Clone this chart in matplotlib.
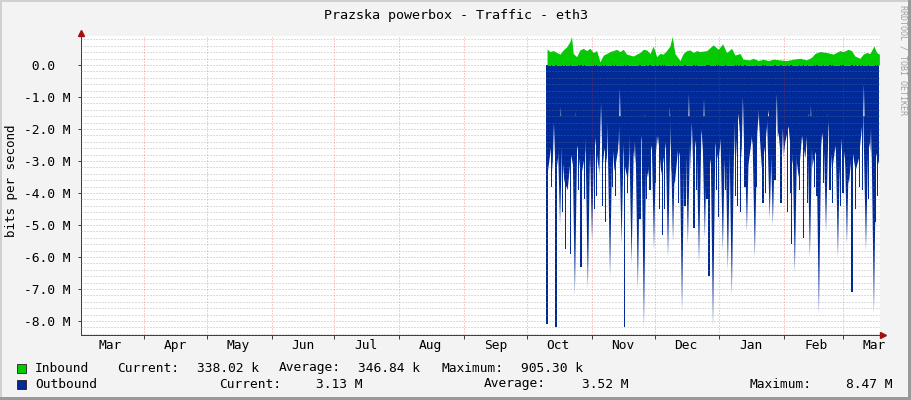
import datetime as dt
import numpy as np
import matplotlib
matplotlib.use('Agg')
import matplotlib.pyplot as plt
import matplotlib.dates as mdates
from matplotlib.patches import Rectangle
from matplotlib.ticker import MultipleLocator, NullFormatter

plt.rcParams['font.family'] = ['DejaVu Sans Mono', 'DejaVu Sans']

# ---- data (days since 2010-10-01, values in Mbit/s) ----
in_days = [9.6, 11.0, 12.6, 14.2, 15.8, 17.3, 19.0, 20.5, 21.3, 22.1, 23.7, 25.3,
           26.9, 28.5, 30.1, 31.7, 33.3, 34.9, 36.5, 38.1, 39.7, 41.2, 42.9, 44.4,
           46.0, 47.6, 49.2, 50.8, 52.4, 54.0, 55.6, 57.2, 58.8, 60.3, 62.0, 63.5,
           65.1, 66.7, 68.3, 69.4, 70.7, 73.1, 74.7, 76.3, 77.9, 79.5, 81.1, 82.7,
           85.9, 89.0, 91.4, 93.5, 95.4, 97.8, 99.4, 101.8, 103.3, 106.5, 108.1,
           110.5, 112.9, 115.3, 117.7, 120.9, 124.1, 127.2, 130.4, 133.6, 136.0,
           137.6, 140.0, 143.2, 146.4, 149.5, 151.1, 153.5, 155.1, 156.7, 159.1,
           160.7, 162.3, 163.9, 165.8, 167.1, 168.4]
in_vals = [0.50, 0.42, 0.45, 0.39, 0.34, 0.47, 0.57, 0.73, 0.89, 0.36, 0.26, 0.47,
           0.52, 0.45, 0.52, 0.39, 0.45, 0.10, 0.31, 0.36, 0.42, 0.45, 0.49, 0.42,
           0.49, 0.34, 0.31, 0.28, 0.34, 0.39, 0.49, 0.47, 0.36, 0.59, 0.26, 0.36,
           0.34, 0.45, 0.59, 0.89, 0.36, 0.14, 0.36, 0.45, 0.47, 0.39, 0.45, 0.42,
           0.45, 0.63, 0.49, 0.66, 0.39, 0.52, 0.31, 0.36, 0.18, 0.16, 0.21,
           0.14, 0.18, 0.14, 0.18, 0.16, 0.14, 0.18, 0.21, 0.16, 0.24,
           0.36, 0.42, 0.39, 0.34, 0.45, 0.42, 0.49, 0.45, 0.28, 0.21,
           0.34, 0.39, 0.36, 0.59, 0.39, 0.34]

# outbound: regular samples of the dense part of the area
out_start = 9.6
out_step = 1.6
out_base = [3.4, 2.6, 3.8, 3.0, 2.2, 3.6, 3.9, 2.8, 3.3, 2.5,
            3.5, 2.9, 2.4, 3.4, 2.1, 3.0, 3.7, 2.6, 3.2, 1.9,
            3.3, 2.7, 1.6, 3.1, 3.6, 2.4, 2.9, 3.4, 2.2, 3.0,
            3.5, 2.5, 3.1, 2.2, 3.4, 2.7, 1.9, 3.3, 3.7, 2.6,
            3.0, 1.7, 2.8, 3.4, 2.3, 3.1, 2.0, 3.5, 2.6, 3.2,
            2.4, 3.0, 2.1, 3.3, 1.8, 2.7, 3.4, 1.5, 2.9, 2.2,
            3.1, 2.3, 2.8, 1.6, 3.2, 2.5, 1.4, 3.0, 2.6, 2.1,
            3.3, 2.4, 1.9, 3.1, 2.6, 3.5, 2.2, 2.9, 1.5, 3.2,
            2.7, 3.4, 2.1, 3.0, 1.8, 3.3, 2.5, 3.6, 2.2, 3.1,
            3.7, 2.6, 3.3, 2.9, 1.8, 3.5, 2.4, 3.0, 2.7, 3.1]

# short-lived peaks that show as solid columns
peak_days = [9.6, 11.9, 13.9, 17.0, 18.6, 21.0, 24.5, 25.8, 27.4, 32.2, 33.4, 36.3,
             37.7, 41.0, 42.5, 46.8, 48.0, 54.0, 57.0, 58.8, 61.5, 63.5, 64.7, 65.9,
             70.2, 72.6, 75.5, 79.8, 81.0, 86.0, 87.0, 90.5, 91.7, 95.0, 99.5, 100.8,
             102.2, 104.2, 109.6, 112.8, 114.0, 118.5, 121.4, 124.7, 125.8, 126.6,
             130.4, 132.3, 134.0, 137.2, 138.6, 141.8, 144.8, 146.2, 150.0, 151.0,
             155.3, 157.0, 159.1, 160.3, 163.3, 166.7, 167.6]
peak_vals = [8.1, 3.8, 8.2, 4.6, 5.75, 5.9, 3.9, 6.3, 4.2, 4.5, 4.1, 4.4,
             4.9, 3.8, 4.1, 8.2, 4.0, 4.8, 4.2, 3.9, 3.7, 4.5, 5.3, 4.5,
             4.0, 4.3, 4.4, 5.1, 3.9, 4.2, 6.6, 3.9, 4.75, 3.9, 4.1, 4.4,
             4.6, 3.8, 3.8, 4.3, 4.0, 3.6, 4.3, 4.6, 4.0, 5.6,
             3.9, 5.4, 4.3, 3.8, 4.1, 3.7, 3.9, 4.3, 4.4, 4.0,
             7.1, 4.5, 3.8, 3.9, 4.2, 4.9, 4.1]

# peaks that fade out (sub-pixel wide)
spike_days = [15.8, 22.9, 29.1, 31.1, 39.7, 45.2, 50.0, 53.0, 55.9, 60.7, 67.4,
              69.8, 74.1, 76.9, 82.2, 85.0, 88.9, 93.6, 96.0, 97.9, 105.1, 108.9,
              116.0, 117.5, 128.0, 135.2, 139.5, 142.9, 148.6, 152.9, 162.0, 165.8]
spike_vals = [5.0, 7.2, 7.0, 5.5, 6.6, 5.6, 6.2, 7.0, 8.2, 5.8, 6.0,
              5.5, 7.7, 5.6, 6.2, 5.4, 8.2, 5.8, 6.4, 7.2, 5.2, 6.0,
              4.8, 5.0, 6.5, 6.0, 7.8, 5.2, 6.0, 5.6, 5.8, 7.75]

# short dips in outbound traffic
dip_days = [12.9, 16.2, 23.4, 28.2, 30.6, 35.4, 38.7, 44.4, 49.2, 51.6, 56.4, 62.1,
            68.3, 77.4, 78.8, 84.6, 89.8, 94.1, 98.9, 103.2, 107.5, 110.8, 115.1,
            119.4, 122.3, 127.6, 135.7, 143.8, 148.1, 156.2, 161.0, 164.4]
dip_vals = [1.8, 1.3, 1.45, 2.3, 2.5, 1.2, 1.8, 0.72, 2.2, 2.4, 1.5, 2.2,
            1.3, 0.9, 1.8, 1.05, 2.6, 2.85, 1.65, 1.0, 2.2, 1.4, 2.0,
            0.9, 1.97, 1.6, 1.25, 1.5, 1.6, 3.0, 0.6, 2.0]

month_fmt = '%b'
y_ticks = [-8, -7, -6, -5, -4, -3, -2, -1, 0]

legend_rows = [
    ('Inbound', '#00CC00', [('Current:', '338.02 k'), ('Average:', '346.84 k'), ('Maximum:', '905.30 k')]),
    ('Outbound', '#002A97', [('Current:', '3.13 M'), ('Average:', '3.52 M'), ('Maximum:', '8.47 M')]),
]

GREEN = '#00CC00'
BLUE = '#002A97'
W, H = 911, 400

t0 = mdates.date2num(dt.datetime(2010, 10, 1))

fig = plt.figure(figsize=(W / 100, H / 100), dpi=100, facecolor='#F3F3F3')
ax = fig.add_axes([81 / W, 1 - 335 / H, 799 / W, 299 / H], facecolor='white')

# outbound area (negative)
out_days = out_start + out_step * np.arange(len(out_base))
ax.fill_between(t0 + out_days, 0, -np.array(out_base), color=BLUE, lw=0, zorder=1.0)
for d, v in zip(dip_days, dip_vals):
    ax.fill([t0 + d - 1.1, t0 + d, t0 + d + 1.1], [-4.2, -v, -4.2],
            color='white', lw=0, zorder=1.1)
for d, v in zip(spike_days, spike_vals):
    ax.fill([t0 + d - 1.3, t0 + d, t0 + d + 1.3], [-1.6, -v, -1.6],
            color=BLUE, lw=0, zorder=1.2)
ax.bar(t0 + np.array(peak_days), -np.array(peak_vals), width=0.55,
       color=BLUE, lw=0, zorder=1.3)

# inbound area
ax.fill_between(t0 + np.array(in_days), 0, in_vals, color=GREEN, lw=0, zorder=1.0)

ax.set_xlim(t0 - 213.1, t0 + 168.7)
ax.set_ylim(-8.44, 0.906)

# axes, ticks, grid
ax.set_axisbelow(False)
ax.xaxis.set_major_locator(mdates.MonthLocator())
ax.xaxis.set_major_formatter(NullFormatter())
ax.xaxis.set_minor_locator(mdates.MonthLocator(bymonthday=16))
ax.xaxis.set_minor_formatter(mdates.DateFormatter(month_fmt))
ax.tick_params(axis='x', which='minor', length=0, pad=3.0, labelsize=9.3, labelcolor='#000000')
ax.tick_params(axis='x', which='major', length=3, width=0.72, color='#404040')

ax.set_yticks(y_ticks)
ax.set_yticklabels([' 0.0' if v == 0 else f'{v:.1f} M' for v in y_ticks])
ax.yaxis.set_minor_locator(MultipleLocator(0.2))
ax.tick_params(axis='y', which='major', length=2, width=0.72, color='#404040',
               pad=38.9, labelsize=9.3)
ax.tick_params(axis='y', which='minor', length=0)
for lbl in ax.get_yticklabels():
    lbl.set_horizontalalignment('left')

ax.yaxis.grid(True, which='minor', color='#808080', alpha=0.55, lw=0.72, ls=(0, (1, 2)))
ax.yaxis.grid(True, which='major', color='#FF2020', alpha=0.45, lw=0.72, ls=(0, (1, 2)))
ax.xaxis.grid(True, which='major', color='#FF2020', alpha=0.45, lw=0.72, ls=(0, (1, 2)))

for s in ('top', 'right'):
    ax.spines[s].set_visible(False)
for s in ('left', 'bottom'):
    ax.spines[s].set_color('#404040')
    ax.spines[s].set_linewidth(0.72)

# axis arrows
ax.plot([0, 0], [1, 1.01], color='#404040', lw=0.72, transform=ax.transAxes, clip_on=False)
ax.plot([0], [1.01], marker='^', ms=4.5, color='#A01010', transform=ax.transAxes, clip_on=False)
ax.plot([1, 1.004], [0, 0], color='#404040', lw=0.72, transform=ax.transAxes, clip_on=False)
ax.plot([1.004], [0], marker='>', ms=4.5, color='#A01010', transform=ax.transAxes, clip_on=False)

# texts
fig.text(0.5, 1 - 15 / H, 'Prazska powerbox - Traffic - eth3', ha='center', va='center', fontsize=9.6)
fig.text(12 / W, 1 - 181 / H, 'bits per second', rotation=90, ha='center', va='center', fontsize=9.0)
fig.text(903 / W, 1 - 5 / H, 'RRDTOOL / TOBI OETIKER', rotation=270, ha='center', va='top',
         fontsize=6.0, color='#A0A0A0')

# legend
row_y = [368, 384]
label_x = [[117, 279, 442], [219, 484, 749]]
value_x = [[197, 358, 521], [363, 628, 893]]
for r, (name, col, stats) in enumerate(legend_rows):
    y = 1 - row_y[r] / H
    fig.add_artist(Rectangle((17 / W, y - 4.5 / H), 9 / W, 9 / H, transform=fig.transFigure,
                             facecolor=col, edgecolor='#202020', lw=0.6))
    fig.text(35 / W, y, name, va='center', fontsize=9.3)
    for i, (lab, val) in enumerate(stats):
        fig.text(label_x[r][i] / W, y, lab, va='center', fontsize=9.3)
        if r == 0:
            fig.text(value_x[r][i] / W, y, val, va='center', ha='left', fontsize=9.3)
        else:
            fig.text(value_x[r][i] / W, y, val, va='center', ha='right', fontsize=9.3)

# 3d frame of the canvas
fig.add_artist(Rectangle((0, 0), 2 / W, 1, transform=fig.transFigure, color='#D0D0D0', lw=0))
fig.add_artist(Rectangle((0, 1 - 2 / H), 1, 2 / H, transform=fig.transFigure, color='#D0D0D0', lw=0))
fig.add_artist(Rectangle((1 - 3 / W, 0), 3 / W, 1, transform=fig.transFigure, color='#999999', lw=0))
fig.add_artist(Rectangle((0, 0), 1, 3 / H, transform=fig.transFigure, color='#999999', lw=0))

fig.savefig('out.png', dpi=100, facecolor=fig.get_facecolor())
